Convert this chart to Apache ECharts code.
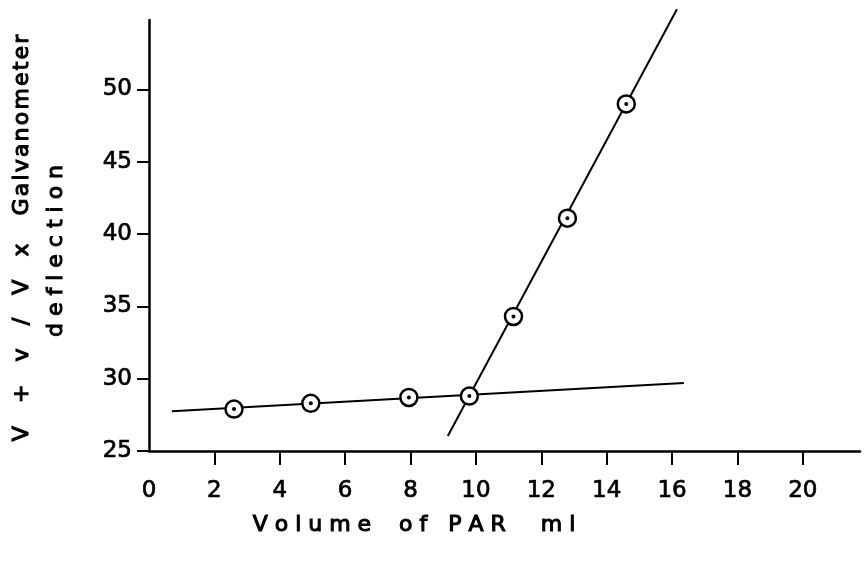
<!DOCTYPE html>
<html>
<head>
<meta charset="utf-8">
<script src="https://cdn.jsdelivr.net/npm/echarts@6/dist/echarts.min.js"></script>
<style>html,body{margin:0;padding:0;background:#fff}#c{width:864px;height:561px}</style>
</head>
<body>
<div id="c"></div>
<script>
// measured points: volume of PAR (ml) vs corrected galvanometer deflection
const volumes = [2.6, 4.95, 7.95, 9.8, 11.15, 12.8, 14.6];
const deflections = [27.9, 28.3, 28.7, 28.8, 34.3, 41.1, 49.0];
// hand-drawn fit lines (end points)
const flatLineX = [0.7, 16.36];
const flatLineY = [27.75, 29.7];
const steepLineX = [9.14, 16.15];
const steepLineY = [26.04, 55.54];
// axis ticks
const xTicks = [0, 2, 4, 6, 8, 10, 12, 14, 16, 18, 20];
const yTicks = [25, 30, 35, 40, 45, 50];

const pts = volumes.map((v, i) => [v, deflections[i]]);
const flat = flatLineX.map((v, i) => [v, flatLineY[i]]);
const steep = steepLineX.map((v, i) => [v, steepLineY[i]]);

const FONT = '"DejaVu Sans", sans-serif';
const HAIR = '\u200A';
const spaced = (s, sep) => s.split('').join(sep);
const txt = {fill: '#000', font: '22px ' + FONT, textAlign: 'center', textVerticalAlign: 'middle', stroke: '#000', lineWidth: 1.1};
const line1 = ['V', '+', 'v', '/', 'V', 'x'].join('   ' + HAIR) + '    ' + spaced('Galvanometer', HAIR);
const line2 = spaced('deflection', ' ');
const xTitle = spaced('Volume', ' ') + '    ' + spaced('of', ' ') + '   ' + spaced('PAR', ' ') + '     ' + spaced('ml', ' ');

const chart = echarts.init(document.getElementById('c'), null, {renderer: 'canvas'});
const lab = {color: '#000', fontSize: 23, fontFamily: FONT, textBorderColor: '#000', textBorderWidth: 0.7};
chart.setOption({
  animation: false,
  backgroundColor: '#fff',
  grid: {left: 149, right: 4, top: 20, bottom: 110},
  xAxis: {
    type: 'value', min: 0, max: 21.75,
    splitLine: {show: false},
    axisLine: {lineStyle: {color: '#000', width: 2.5}},
    axisTick: {show: true, inside: false, length: 14, lineStyle: {color: '#000', width: 2}, customValues: xTicks.filter(v => v > 0)},
    axisLabel: Object.assign({margin: 29, customValues: xTicks}, lab)
  },
  yAxis: {
    type: 'value', min: 25, max: 54.8,
    splitLine: {show: false},
    axisLine: {lineStyle: {color: '#000', width: 2.5}},
    axisTick: {show: true, inside: false, length: 12, lineStyle: {color: '#000', width: 2}, customValues: yTicks},
    axisLabel: Object.assign({margin: 17, customValues: yTicks}, lab)
  },
  graphic: [
    {type: 'text', x: 22, y: 238, rotation: Math.PI / 2, style: Object.assign({text: line1}, txt)},
    {type: 'text', x: 56, y: 251, rotation: Math.PI / 2, style: Object.assign({text: line2}, txt)},
    {type: 'text', x: 414, y: 525, style: Object.assign({text: xTitle}, txt)}
  ],
  series: [
    {type: 'line', data: flat, symbol: 'none', clip: false, lineStyle: {color: '#000', width: 2}, z: 2},
    {type: 'line', data: steep, symbol: 'none', clip: false, lineStyle: {color: '#000', width: 2}, z: 2},
    {type: 'scatter', data: pts, symbol: 'circle', symbolSize: 17,
      itemStyle: {color: '#fff', borderColor: '#000', borderWidth: 2.5, opacity: 1}, z: 3},
    {type: 'scatter', data: pts, symbol: 'circle', symbolSize: 4,
      itemStyle: {color: '#000', opacity: 1}, z: 4}
  ]
});
</script>
</body>
</html>
